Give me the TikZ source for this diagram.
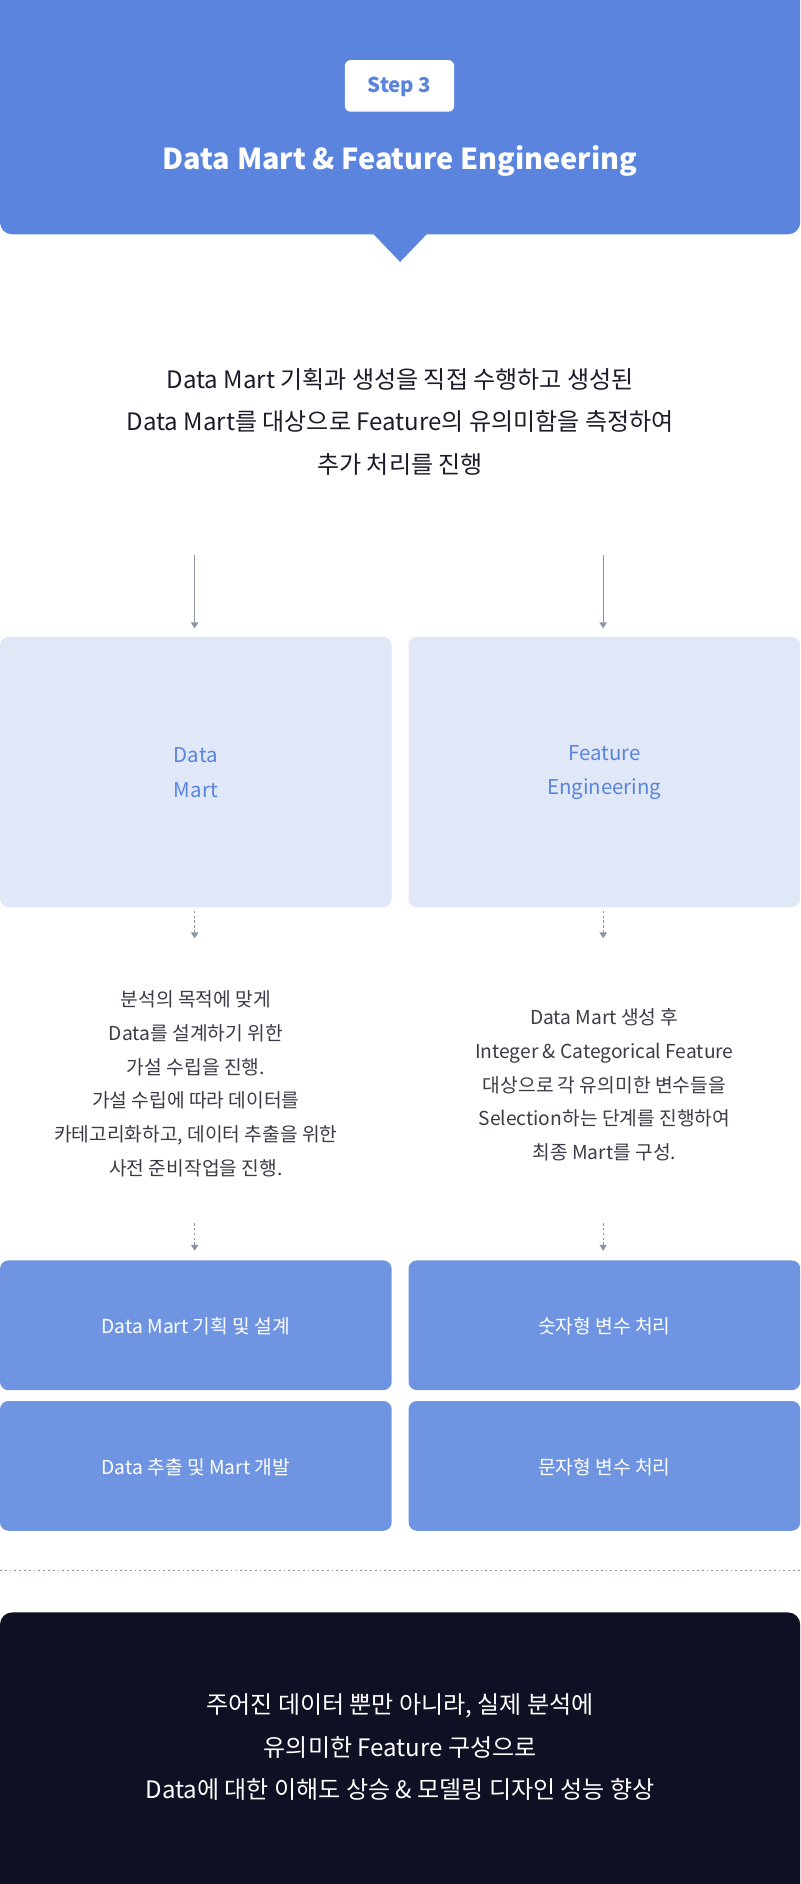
\documentclass[tikz,border=0pt]{standalone}
\usepackage{fontspec}
\setmainfont{Noto Sans CJK KR}
\usetikzlibrary{arrows.meta}
\definecolor{hdr}{HTML}{5A84DE}
\definecolor{lite}{HTML}{E0E7F6}
\definecolor{mid}{HTML}{6F94E2}
\definecolor{dark}{HTML}{0E1024}
\definecolor{txt}{HTML}{1A1C2A}
\definecolor{gry}{HTML}{8A94A6}
\definecolor{body}{HTML}{3A3D48}
\tikzset{
 sarrow/.style={draw=gry,line width=1pt,-{Triangle[length=5pt,width=6pt]}},
 darrow/.style={draw=gry,line width=1pt,dash pattern=on 2pt off 2pt,-{Triangle[length=5pt,width=6pt]}},
 litebox/.style={fill=lite,rounded corners=7pt,draw=none},
 midbox/.style={fill=mid,rounded corners=7pt,draw=none},
 boxlbl/.style={text=white,font=\fontsize{16}{20}\selectfont},
 desc/.style={text=body,align=center,font=\fontsize{16}{28}\selectfont},
}
\begin{document}
\begin{tikzpicture}[x=1pt,y=-1pt]
\useasboundingbox (0,0) rectangle (666,1568);
\fill[white] (0,0) rectangle (666,1568);
% header
\fill[hdr,rounded corners=10pt] (0,-20) rectangle (666,195);
\fill[hdr] (310,194) -- (333,218) -- (356,194) -- cycle;
\fill[white,rounded corners=5pt] (287,50) rectangle (378,93);
\node[text=hdr,font=\bfseries\fontsize{17}{20}\selectfont] (step) at (332.5,72) {Step 3};
\node[text=white,font=\bfseries\fontsize{24}{28}\selectfont] (title) at (333,134) {Data Mart \& Feature Engineering};
% intro
\node[text=txt,align=center,font=\fontsize{20}{35.5}\selectfont] (intro) at (333,351)
 {Data Mart 기획과 생성을 직접 수행하고 생성된\\Data Mart를 대상으로 Feature의 유의미함을 측정하여\\추가 처리를 진행};
\coordinate (a1) at (162,462); \coordinate (a2) at (502,462);
% light boxes
\fill[litebox] (0,530) rectangle (326,755);
\fill[litebox] (340,530) rectangle (666,755);
\node[text=hdr,align=center,font=\fontsize{17}{29}\selectfont] (dm) at (163,643) {Data\\Mart};
\node[text=hdr,align=center,font=\fontsize{17}{29}\selectfont] (fe) at (503,643) {Feature\\Engineering};
\coordinate (b1) at (162,523); \coordinate (b2) at (502,523);
\draw[sarrow] (a1) -- (b1);
\draw[sarrow] (a2) -- (b2);
\coordinate (c1) at (162,758); \coordinate (d1) at (162,781);
\coordinate (c2) at (502,758); \coordinate (d2) at (502,781);
\draw[darrow] (c1) -- (d1);
\draw[darrow] (c2) -- (d2);
\node[desc] (t1) at (163,902) {분석의 목적에 맞게\\Data를 설계하기 위한\\가설 수립을 진행.\\가설 수립에 따라 데이터를\\카테고리화하고, 데이터 추출을 위한\\사전 준비작업을 진행.};
\node[desc] (t2) at (503,903) {Data Mart 생성 후\\Integer \& Categorical Feature\\대상으로 각 유의미한 변수들을\\Selection하는 단계를 진행하여\\최종 Mart를 구성.};
\coordinate (e1) at (162,1018); \coordinate (f1) at (162,1041);
\coordinate (e2) at (502,1018); \coordinate (f2) at (502,1041);
\draw[darrow] (e1) -- (f1);
\draw[darrow] (e2) -- (f2);
% mid boxes
\fill[midbox] (0,1049) rectangle (326,1157);
\fill[midbox] (340,1049) rectangle (666,1157);
\fill[midbox] (0,1166) rectangle (326,1274);
\fill[midbox] (340,1166) rectangle (666,1274);
\node[boxlbl] (m1) at (163,1104) {Data Mart 기획 및 설계};
\node[boxlbl] (m2) at (503,1104) {숫자형 변수 처리};
\node[boxlbl] (m3) at (163,1221) {Data 추출 및 Mart 개발};
\node[boxlbl] (m4) at (503,1221) {문자형 변수 처리};
% separator
\draw[gry,line width=1pt,dash pattern=on 1.5pt off 2.5pt] (0,1307) -- (666,1307);
% dark box
\fill[dark,rounded corners=10pt] (0,1342) rectangle (666,1590);
\node[text=white,align=center,font=\fontsize{20}{35.5}\selectfont] (concl) at (333,1454)
 {주어진 데이터 뿐만 아니라, 실제 분석에\\유의미한 Feature 구성으로\\Data에 대한 이해도 상승 \& 모델링 디자인 성능 향상};
\end{tikzpicture}
\end{document}
